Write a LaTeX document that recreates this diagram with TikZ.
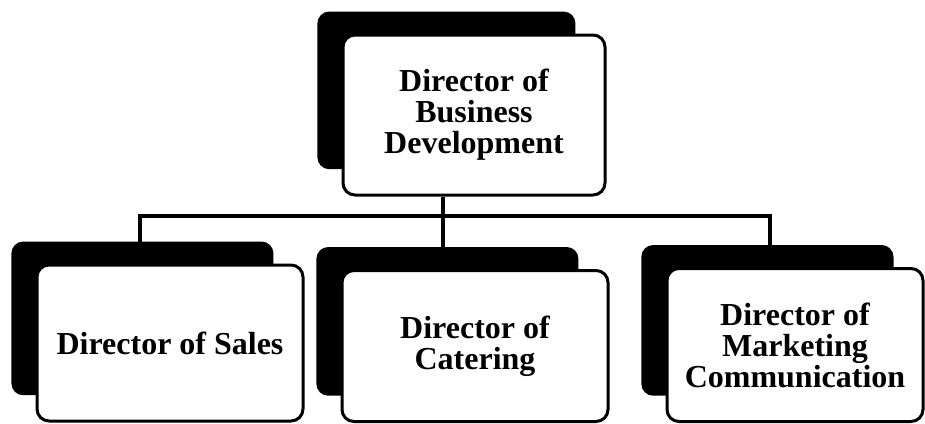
\documentclass[tikz,border=0pt]{standalone}
\usepackage{fontspec}
\setmainfont{Liberation Serif}
\usetikzlibrary{shadows, positioning, calc}

\begin{document}
\begin{tikzpicture}[
        x=1pt, y=-1pt,
        every node/.style={font=\fontsize{32}{31}\selectfont\bfseries}, % texto en negrita
        card/.style={draw=black, line width=3pt, fill=white, rounded corners=12pt,
                     align=center, inner sep=0pt,
                     general shadow={fill=black, shadow xshift=-28pt, shadow yshift=25pt, shadow scale=0.985}},
        link/.style={line width=4pt, draw=black}
    ]
        \useasboundingbox (0,0) rectangle (925,423);

        % --- Caja superior ---
        \node[card, minimum width=262pt, minimum height=160pt] (bizdev) at (474,115) {Director of\\Business\\Development};

        % --- Cajas inferiores ---
        \node[card, minimum width=266pt, minimum height=156pt] (sales) at (170,343) {Director of Sales};
        \node[card, minimum width=266pt, minimum height=151pt] (catering) at (475,346) {Director of\\Catering};
        \node[card, minimum width=256pt, minimum height=153pt] (marketing) at (795,345) {Director of\\Marketing\\Communication};

        % --- Barra de conexion ---
        \coordinate (bus) at (443,216);
        \coordinate (busL) at (140,216);
        \coordinate (busR) at (770,216);

        \draw[link] (sales.north -| busL) -- (busL) -- (busR) -- (marketing.north -| busR);
        \draw[link] (bizdev.south -| bus) -- (catering.north -| bus);
\end{tikzpicture}
\end{document}
